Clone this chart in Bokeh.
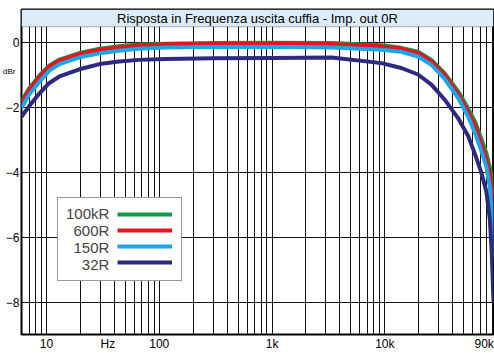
from bokeh.plotting import figure
from bokeh.models import (FixedTicker, BoxAnnotation, Label, Legend, LegendItem, Range1d,
                          LinearAxis)
from bokeh.embed import file_html
from bokeh.resources import INLINE

TITLE = "Risposta in Frequenza uscita cuffia - Imp. out 0R"

FREQ = [6, 7, 8.7, 10.6, 13, 19.6, 29.5, 44, 66, 114, 300, 1000, 3370, 9350, 14000,
        19700, 25900, 33700, 44900, 55000, 63500, 71800, 79500, 85400, 88900, 90500, 92000]
R_100K = [-1.82, -1.43, -1.02, -0.72, -0.54, -0.34, -0.21, -0.13, -0.08, -0.05, -0.03, -0.02, -0.03,
          -0.10, -0.18, -0.30, -0.55, -0.95, -1.53, -2.05, -2.47, -2.98, -3.42, -3.85, -4.25, -4.45, -4.70]
R_600 = [-1.87, -1.47, -1.06, -0.75, -0.57, -0.37, -0.24, -0.16, -0.11, -0.07, -0.05, -0.04, -0.06,
         -0.13, -0.21, -0.34, -0.60, -1.00, -1.61, -2.16, -2.59, -3.14, -3.60, -4.06, -4.52, -4.75, -5.00]
R_150 = [-2.02, -1.62, -1.21, -0.88, -0.68, -0.47, -0.35, -0.27, -0.21, -0.17, -0.15, -0.15, -0.17,
         -0.24, -0.30, -0.45, -0.70, -1.12, -1.73, -2.31, -2.83, -3.35, -3.84, -4.46, -5.13, -5.70, -6.60]
R_32 = [-2.30, -1.98, -1.57, -1.26, -1.06, -0.84, -0.68, -0.60, -0.55, -0.52, -0.50, -0.49, -0.48,
        -0.65, -0.80, -1.00, -1.31, -1.76, -2.36, -2.90, -3.48, -4.02, -4.60, -5.45, -6.55, -7.30, -8.00]

SERIES_NAMES = ["100kR", "600R", "150R", "32R"]
SERIES_COLORS = ["#12994a", "#e5141f", "#1ba6e6", "#2d2a80"]

X_TICKS = [10, 35, 100, 1000, 10000, 76000]
X_LABELS = ["10", "Hz", "100", "1k", "10k", "90k"]
Y_TICKS = [0, -2, -4, -6, -8]
Y_UNIT_TICK = -0.9
Y_UNIT = "dBr"
X_MIN, X_MAX = 6, 92000
Y_MIN, Y_MAX = -9.0, 1.0
BAND_BOTTOM = 0.47

FONT = "Liberation Sans"

p = figure(width=494, height=353, x_axis_type="log",
           x_range=Range1d(X_MIN, X_MAX), y_range=Range1d(Y_MIN, Y_MAX),
           output_backend="svg", toolbar_location=None,
           min_border_left=21, min_border_right=1, min_border_top=9, min_border_bottom=17)

p.background_fill_color = "white"
p.border_fill_color = "white"
p.outline_line_color = "black"
p.outline_line_width = 2


def style_axis(ax, size="12px", standoff=2):
    ax.axis_line_color = None
    ax.major_tick_line_color = None
    ax.minor_tick_line_color = None
    ax.major_tick_out = 0
    ax.major_tick_in = 0
    ax.minor_tick_out = 0
    ax.minor_tick_in = 0
    ax.major_label_text_font = FONT
    ax.major_label_text_font_size = size
    ax.major_label_text_color = "black"
    ax.major_label_standoff = standoff


for ax in (p.xaxis, p.yaxis):
    style_axis(ax)

p.xaxis.ticker = FixedTicker(ticks=X_TICKS)
p.xaxis.major_label_overrides = {t: l for t, l in zip(X_TICKS, X_LABELS)}
p.yaxis.ticker = FixedTicker(ticks=Y_TICKS)

# small unit label "dBr" on the left side
unit_axis = LinearAxis(ticker=FixedTicker(ticks=[Y_UNIT_TICK]),
                       major_label_overrides={Y_UNIT_TICK: Y_UNIT})
style_axis(unit_axis, size="8px", standoff=-13)
p.add_layout(unit_axis, "left")

grid_freq = [m * 10 ** e for e in range(0, 5) for m in range(1, 10) if X_MIN <= m * 10 ** e <= X_MAX]
p.xgrid.ticker = FixedTicker(ticks=grid_freq)
p.ygrid.ticker = FixedTicker(ticks=Y_TICKS)
for g in (p.xgrid, p.ygrid):
    g.grid_line_color = "#111111"
    g.grid_line_width = 1

renderers = []
for vals, color in zip([R_100K, R_600, R_150, R_32], SERIES_COLORS):
    r = p.line(FREQ, vals, line_color=color, line_width=4)
    renderers.append(r)

band = BoxAnnotation(bottom=BAND_BOTTOM, fill_color="#dcedf9", fill_alpha=1.0,
                     line_color="black", line_width=1, level="annotation")
p.add_layout(band)

xc = (X_MIN * X_MAX) ** 0.5
p.add_layout(Label(x=xc, y=(BAND_BOTTOM + Y_MAX) / 2, text=TITLE, text_align="center",
                   text_baseline="middle", text_font=FONT, text_font_size="13px", text_color="black"))

# legend part A: labels (padded so they line up on the right) inside the bordered box
PAD = {"100kR": "", "600R": "\u2002", "150R": "\u2002", "32R": "\u2007\u2002"}
dummies = [p.line([], [], line_alpha=0) for _ in SERIES_NAMES]
leg_a = Legend(items=[LegendItem(label=PAD[n] + n, renderers=[d]) for n, d in zip(SERIES_NAMES, dummies)],
               location=(36, 53))
leg_a.label_text_font = FONT
leg_a.label_text_font_size = "15px"
leg_a.glyph_width = 1
leg_a.glyph_height = 16
leg_a.label_height = 16
leg_a.label_width = 108
leg_a.spacing = 0
leg_a.padding = 7
leg_a.label_standoff = 0
leg_a.border_line_color = "#333333"
leg_a.border_line_width = 1
leg_a.background_fill_alpha = 1.0
leg_a.margin = 0
p.add_layout(leg_a)

# legend part B: the line samples, to the right of the labels
leg_b = Legend(items=[LegendItem(label=" ", renderers=[r]) for r in renderers],
               location=(96, 64))
leg_b.label_text_font = FONT
leg_b.label_text_font_size = "15px"
leg_b.glyph_width = 55
leg_b.glyph_height = 16
leg_b.label_height = 16
leg_b.label_width = 0
leg_b.spacing = 0
leg_b.padding = 0
leg_b.label_standoff = 0
leg_b.border_line_color = None
leg_b.background_fill_alpha = 0.0
leg_b.margin = 0
p.add_layout(leg_b)

open("out.html", "w").write(file_html(p, INLINE))
